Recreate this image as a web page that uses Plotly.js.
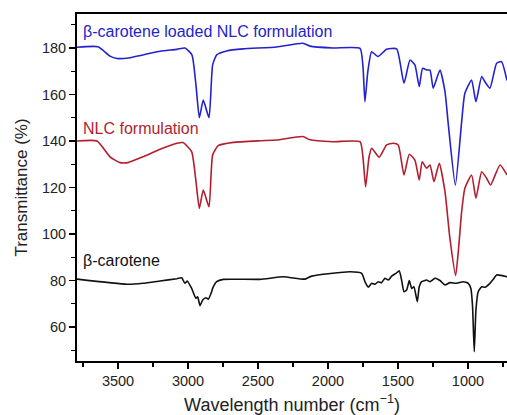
<!DOCTYPE html>
<html>
<head>
<meta charset="utf-8">
<script src="https://cdn.plot.ly/plotly-3.0.1.min.js"></script>
<style>html,body{margin:0;padding:0;background:#fff}#chart{width:507px;height:415px}</style>
</head>
<body>
<div id="chart"></div>
<script>
// Wavenumbers (cm-1) and transmittance (%)
const blueWave = [3793,3643,3557,3507,3436,3322,3200,3079,3022,2972,2943,2919,2891,2850,2824,2795,2724,2607,2367,2179,2129,1964,1771,1750,1736,1715,1688,1643,1581,1509,1457,1414,1379,1348,1324,1295,1271,1248,1200,1164,1140,1090,1045,1022,974,943,902,879,843,795,760,721];
const blueT    = [180.3,180.5,176.5,175.5,175.6,177,178.6,179.4,180,177,164,150,157.6,150,172.7,177,178.7,179.6,180.4,182,180.8,180,179.8,172,156.9,170,178.4,176.3,179.4,179.6,164.8,174.8,172.7,163.4,171.3,170.5,170.5,162.7,170.5,161.2,146.9,121,148.3,160.5,166.2,156.9,167.7,165.5,162.7,173.4,174.1,166];

const redWave = [3793,3650,3557,3486,3429,3322,3200,3079,3036,2974,2943,2919,2891,2850,2824,2784,2677,2486,2367,2179,2129,1964,1771,1750,1731,1707,1688,1634,1581,1534,1498,1457,1419,1379,1348,1327,1295,1271,1243,1205,1164,1129,1088,1069,1045,1022,974,943,902,867,838,771,721];
const redT    = [140,140,133.2,130.7,130.7,133.2,136.4,139,139.3,135.4,122.5,111,118.9,111.7,134,138,139.4,140.1,140.4,141.9,140.5,139.7,139.7,133,120.3,133,136.9,133,138.3,139,138.3,125.4,134.3,131.8,123.2,131.1,128.3,129.7,122.5,130.4,118.2,98.2,82.1,92.4,109.6,119.7,125.4,115.4,126.8,124,121.1,129.7,125.4];

const blackWave = [3793,3436,3322,3200,3079,3045,3022,3005,2974,2943,2931,2914,2895,2872,2855,2831,2824,2795,2748,2486,2319,2164,2117,1843,1759,1736,1712,1688,1664,1641,1617,1593,1569,1545,1514,1491,1474,1457,1438,1419,1402,1386,1362,1348,1331,1295,1271,1236,1200,1164,1129,1081,1034,998,979,967,955,943,927,902,879,843,819,795,721];
const blackT    = [80.6,78.4,78.8,79.8,80.8,81.2,78.8,79.8,76.6,72.3,73,69.2,71.6,72.6,72,75.2,76.6,79.5,80.5,80.5,81.6,80.6,81.9,83.8,83.1,79.5,77.1,78.8,78.4,79.5,79.1,81,80.2,81.9,83.1,84.2,80.2,75.2,75.9,80,76.6,77.3,70.9,77.3,79.5,80.2,79.5,81,80,78.1,79.1,78.8,79.5,78.8,76.6,68.7,49.4,67.3,75.2,77.3,77.1,78.8,80.5,82.4,81.6];

const seriesNames = ["β-carotene loaded NLC formulation","NLC formulation","β-carotene"];
const seriesColors = ["#2323cc","#b31e2e","#111111"];
const yTickVals = [60,80,100,120,140,160,180];

const font = "Liberation Sans, Arial, Helvetica, sans-serif";
const waves = [blueWave, redWave, blackWave];
const vals = [blueT, redT, blackT];

const traces = waves.map((w,i)=>({
  x: w, y: vals[i], type:'scatter', mode:'lines', name: seriesNames[i],
  line:{color: seriesColors[i], width:1.6, shape:'spline', smoothing:0.5},
  hoverinfo:'skip', showlegend:false
}));

const labelY = [186.9, 145.2, 88.8];
const annotations = seriesNames.map((n,i)=>({
  text: n, xref:'paper', yref:'y', x:0.01, y:labelY[i], xanchor:'left', yanchor:'middle',
  showarrow:false, font:{family:font, size:16, color: seriesColors[i]}
}));

const layout = {
  width:507, height:415,
  margin:{l:77, r:0, t:14, b:54},
  paper_bgcolor:'#fff', plot_bgcolor:'#fff',
  showlegend:false,
  annotations: annotations,
  xaxis:{
    range:[3793,721], autorange:false, tick0:0, dtick:500,
    ticks:'outside', ticklen:6, tickwidth:1.5, tickcolor:'#000',
    minor:{dtick:250, ticks:'outside', ticklen:4, tickwidth:1.2, tickcolor:'#000', showgrid:false},
    showline:true, linewidth:2, linecolor:'#000', mirror:true,
    showgrid:false, zeroline:false,
    tickfont:{family:font, size:14.5, color:'#222'},
    title:{text:'Wavelength number (cm<sup>−1</sup>)', font:{family:font, size:18, color:'#222'}, standoff:10}
  },
  yaxis:{
    range:[45.4,194.6], autorange:false, tickvals:yTickVals,
    ticks:'outside', ticklen:6, tickwidth:1.5, tickcolor:'#000',
    minor:{dtick:10, tick0:0, ticks:'outside', ticklen:4, tickwidth:1.2, tickcolor:'#000', showgrid:false},
    showline:true, linewidth:2, linecolor:'#000', mirror:false,
    showgrid:false, zeroline:false,
    tickfont:{family:font, size:14.5, color:'#222'},
    title:{text:'Transmittance (%)', font:{family:font, size:17, color:'#222'}, standoff:10}
  }
};

Plotly.newPlot('chart', traces, layout, {staticPlot:true, displayModeBar:false});
</script>
</body>
</html>
